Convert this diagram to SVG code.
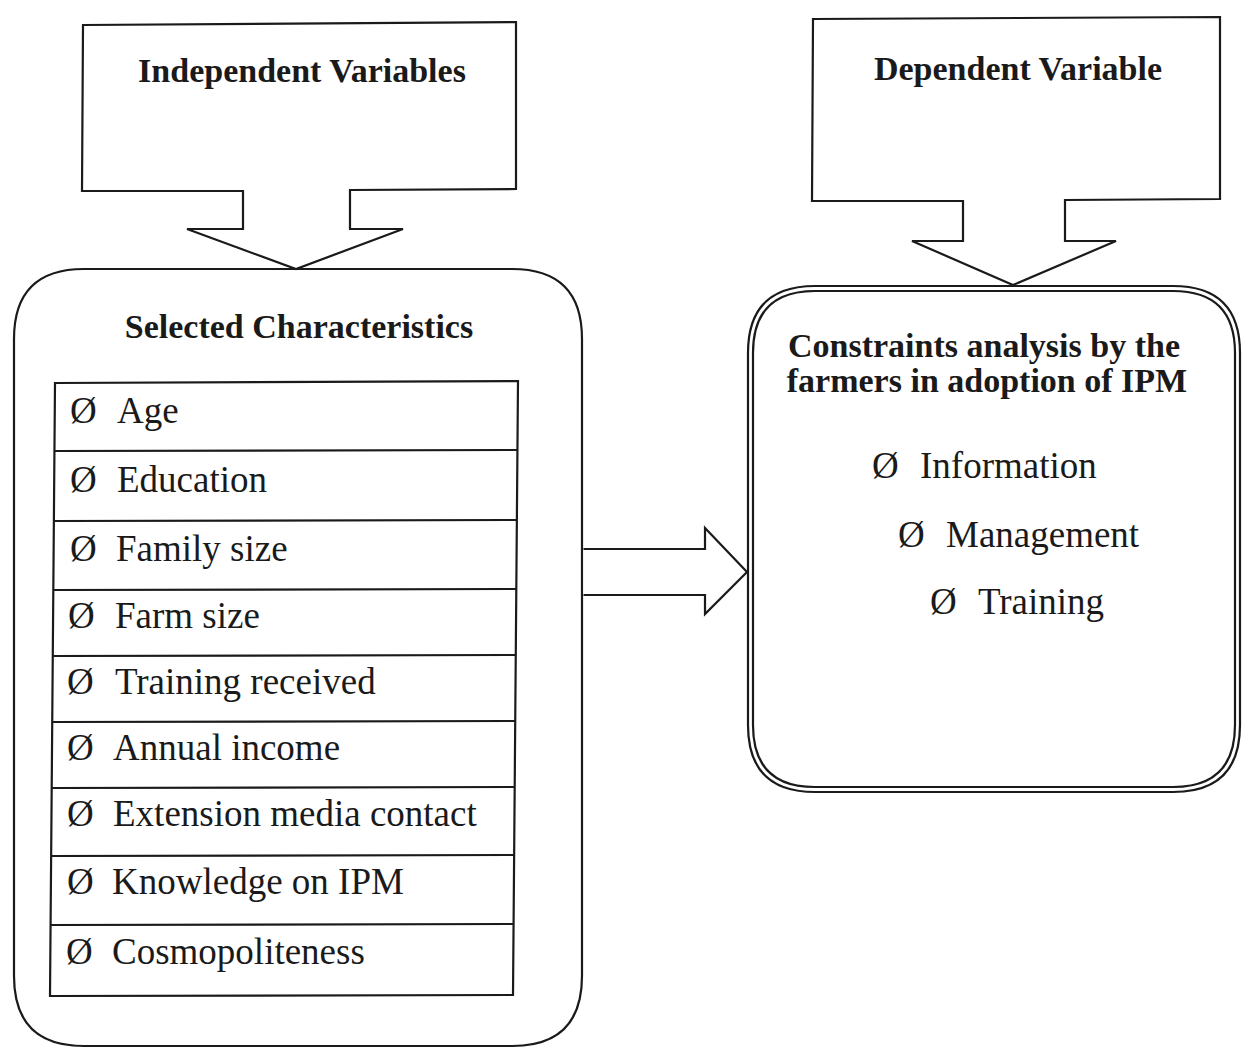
<svg xmlns="http://www.w3.org/2000/svg" width="1242" height="1049" viewBox="0 0 1242 1049">
<style>
.ln{fill:none;stroke:#1a1a1a;stroke-width:2.2;stroke-linejoin:miter}
.wf{fill:#fff;stroke:#1a1a1a;stroke-width:2.2}
.hd{font-family:"Liberation Serif","Times New Roman",serif;font-weight:bold;font-size:34px;fill:#1a1a1a}
.it{font-family:"Liberation Serif","Times New Roman",serif;font-size:37px;fill:#1a1a1a}
</style>
<rect width="1242" height="1049" fill="#fff"/>
<g id="independent-callout">
<path class="wf" d="M83,25 L516,22 L516,189 L350,190 L350,229 L403,229 L296,269 L187,229 L243,229 L243,191 L82,191 Z"/>
<text class="hd" x="302" y="82" text-anchor="middle">Independent Variables</text>
</g>
<g id="dependent-callout">
<path class="wf" d="M813,19 L1220,17 L1220,199 L1065,200 L1065,241 L1116,241 L1013,285 L912,241 L963,241 L963,201 L812,201 Z"/>
<text class="hd" x="1018" y="80" text-anchor="middle">Dependent Variable</text>
</g>
<g id="selected-characteristics">
<path class="ln" d="M84,269 L512,269 Q582,269 582,339 L582,976 Q582,1046 512,1046 L84,1046 Q14,1046 14,976 L14,339 Q14,269 84,269 Z"/>
<text class="hd" x="299" y="338" text-anchor="middle">Selected Characteristics</text>
<g id="table">
<path class="ln" d="M55,383 L518,381 L513,995 L50,996 Z"/>
<path class="ln" d="M55,451 L517,450 M54,521 L517,520 M54,590 L516,589 M53,656 L515,655 M53,722 L515,721 M52,788 L514,787 M52,856 L514,855 M51,925 L514,924"/>
</g>
<g class="it">
<text x="70" y="423">Ø</text><text x="117" y="423">Age</text>
<text x="70" y="492">Ø</text><text x="117" y="492">Education</text>
<text x="70" y="561">Ø</text><text x="116" y="561">Family size</text>
<text x="68" y="628">Ø</text><text x="115" y="628">Farm size</text>
<text x="67" y="694">Ø</text><text x="115" y="694">Training received</text>
<text x="67" y="760">Ø</text><text x="113" y="760">Annual income</text>
<text x="67" y="826">Ø</text><text x="113" y="826">Extension media contact</text>
<text x="67" y="894">Ø</text><text x="112" y="894">Knowledge on IPM</text>
<text x="66" y="964">Ø</text><text x="112" y="964">Cosmopoliteness</text>
</g>
</g>
<g id="constraints">
<path class="ln" d="M815,286 L1173,286 Q1240,286 1240,353 L1240,725 Q1240,792 1173,792 L815,792 Q748,792 748,725 L748,353 Q748,286 815,286 Z"/>
<path class="ln" d="M815,291 L1173,291 Q1235,291 1235,353 L1235,725 Q1235,787 1173,787 L815,787 Q753,787 753,725 L753,353 Q753,291 815,291 Z"/>
<text class="hd" x="984" y="357" text-anchor="middle">Constraints analysis by the</text>
<text class="hd" x="987" y="392" text-anchor="middle">farmers in adoption of IPM</text>
<g class="it">
<text x="872" y="478">Ø</text><text x="920" y="478">Information</text>
<text x="898" y="547">Ø</text><text x="946" y="547">Management</text>
<text x="930" y="614">Ø</text><text x="978" y="614">Training</text>
</g>
</g>
<g id="connectors">
<path class="wf" d="M583.5,549 L705,549 L705,528 L747,572 L705,614 L705,595 L583.5,595"/>
</g>
</svg>
